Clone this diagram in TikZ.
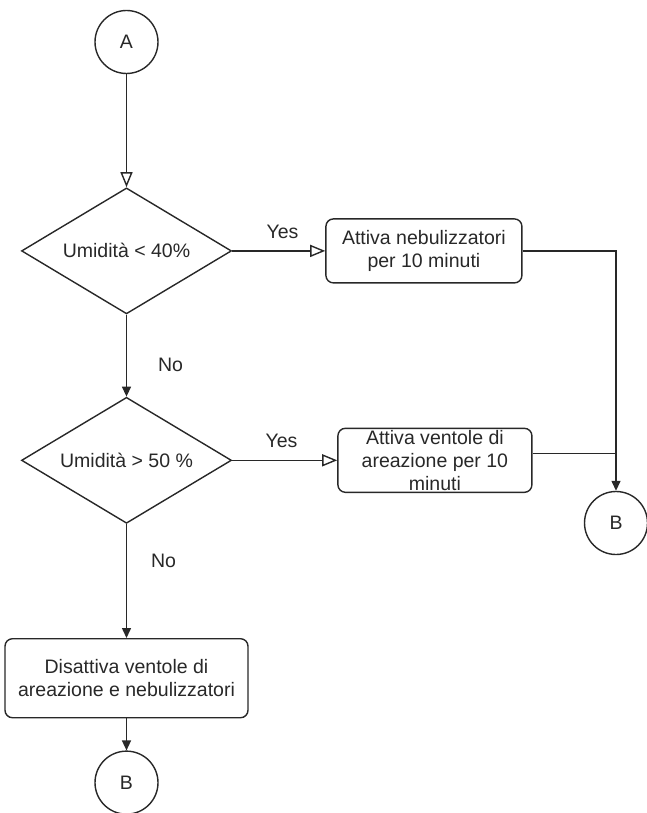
\documentclass[tikz,border=0pt]{standalone}
\usepackage{fontspec}
\setmainfont{Liberation Sans}
\usetikzlibrary{positioning,arrows.meta,shapes.geometric,calc}
\definecolor{FlowLine}{RGB}{40,40,40}

\begin{document}
\begin{tikzpicture}[node distance=1cm,
  every node/.style={font=\fontsize{11.1}{13}\selectfont, align=center, text=FlowLine},
  decision/.style={draw=FlowLine, diamond, shape aspect=1.67, minimum width=4.2cm, minimum height=2.52cm, inner sep=1pt, line width=0.8pt},
  action/.style={draw=FlowLine, rounded corners=0.15cm, minimum width=3.92cm, minimum height=1.28cm, inner sep=1pt, line width=0.8pt},
  onpage/.style={draw=FlowLine, circle, minimum size=1.26cm, inner sep=0pt, line width=0.8pt},
  flow/.style={draw=FlowLine, line width=0.8pt},
  openarrow/.style={-{Triangle[open, length=0.3cm, width=0.24cm]}},
  fullarrow/.style={-{Triangle[length=0.2cm, width=0.18cm]}}]
  \useasboundingbox (0,0) rectangle (12.92,-16.26);
  % main column
  \node[onpage] (A) at (2.53,-0.84) {A};
  \node[decision, below=2.26cm of A] (d1) {Umidità < 40\%};
  \node[decision, below=1.64cm of d1] (d2) {Umidità > 50 \%};
  \node[action, below=2.28cm of d2, minimum width=4.86cm, minimum height=1.58cm] (off) {Disattiva ventole di\\areazione e nebulizzatori};
  \node[onpage, below=0.64cm of off] (Bdown) {B};
  % right branch
  \node[action, right=1.86cm of d1] (mist) {Attiva nebulizzatori\\per 10 minuti};
  \node[action, right=2.1cm of d2, minimum width=3.88cm, label={[align=center]center:Attiva ventole di\\areazione per 10\\minuti}] (fans) {};
  \node[onpage] (Bright) at (12.32,-10.46) {B};

  \draw[flow, openarrow] (A) -- (d1);
  \draw[flow, openarrow] (d1) -- node[above=0.12cm, pos=0.54]{Yes} (mist);
  \draw[flow, fullarrow] (d1) -- node[right=0.5cm, pos=0.61]{No} (d2);
  \draw[flow, openarrow] (d2) -- node[above=0.12cm, pos=0.47]{Yes} (fans);
  \draw[flow, fullarrow] (d2) -- node[right=0.36cm, pos=0.32]{No} (off);
  \draw[flow, fullarrow] (off) -- (Bdown);
  \draw[flow, fullarrow] (mist) -| (Bright);
  \draw[flow] ($(fans.east)+(0,0.14)$) -- ($(fans.east -| Bright)+(0,0.14)$);
\end{tikzpicture}
\end{document}
